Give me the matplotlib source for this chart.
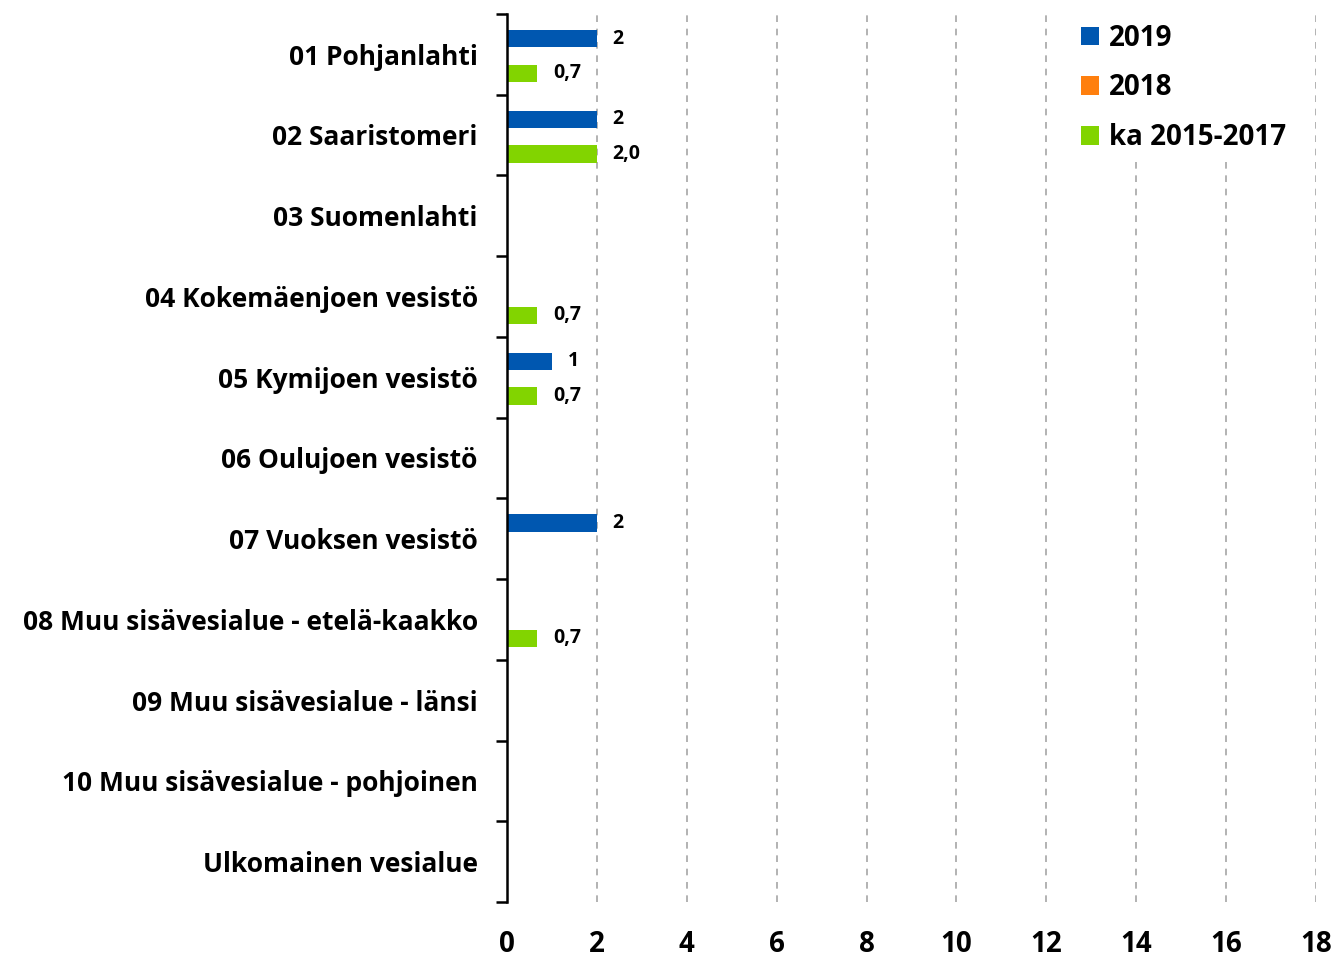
from matplotlib import pyplot as plt
from matplotlib.ticker import FixedLocator
import numpy as np

plt.rcParams['font.family'] = ['Open Sans', 'DejaVu Sans']
plt.rcParams['font.weight'] = 'bold'

alueet = ['01 Pohjanlahti', '02 Saaristomeri', '03 Suomenlahti',
          '04 Kokemäenjoen vesistö', '05 Kymijoen vesistö', '06 Oulujoen vesistö',
          '07 Vuoksen vesistö', '08 Muu sisävesialue - etelä-kaakko',
          '09 Muu sisävesialue - länsi', '10 Muu sisävesialue - pohjoinen',
          'Ulkomainen vesialue']
v2019 = [2, 2, 0, 0, 1, 0, 2, 0, 0, 0, 0]
v2018 = [0, 0, 0, 0, 0, 0, 0, 0, 0, 0, 0]
ka = [0.67, 2.0, 0, 0.67, 0.67, 0, 0, 0.67, 0, 0, 0]

sarjat = [('2019', v2019, '#0057B0', '{:.0f}'),
          ('2018', v2018, '#FF7F0E', '{:.0f}'),
          ('ka 2015-2017', ka, '#82D400', '{:.1f}')]

fig = plt.figure(figsize=(13.37, 9.57), dpi=100)
ax = fig.add_axes([0.3792, 0.0575, 0.6051, 0.928])

y = np.arange(len(alueet))
h = 0.215
for i, (nimi, arvot, vari, fmt) in enumerate(sarjat):
    pos = y + (i - 1) * h + 0.02
    ax.barh(pos, arvot, height=h, color=vari, label=nimi, zorder=3)
    for p, v in zip(pos, arvot):
        if v > 0:
            ax.text(v + 0.35, p, fmt.format(v).replace('.', ','), va='center',
                    ha='left', fontsize=14, fontweight='bold')

ax.set_xlim(0, 18)
ax.set_ylim(len(alueet) - 0.5, -0.5)
ax.set_xticks(np.arange(0, 19, 2))
ax.set_yticks(y)
ax.set_yticklabels(alueet, fontsize=19, fontweight='bold')
ax.yaxis.set_minor_locator(FixedLocator(np.arange(-0.5, len(alueet), 1)))
ax.tick_params(axis='y', which='major', length=0, pad=21)
ax.tick_params(axis='y', which='minor', length=8, width=1.8, direction='out')
ax.tick_params(axis='x', length=0, labelsize=20, pad=20)
for t in ax.get_xticklabels():
    t.set_fontweight('bold')

ax.grid(axis='x', color='#A6A6A6', linestyle=(0, (4, 4)), linewidth=1.2, zorder=0)
for s in ['top', 'right', 'bottom']:
    ax.spines[s].set_visible(False)
ax.spines['left'].set_linewidth(1.8)
ax.spines['left'].set_zorder(4)

leg = ax.legend(loc='upper right', bbox_to_anchor=(0.975, 1.0), frameon=True,
                edgecolor='none', facecolor='white', framealpha=1,
                fontsize=20, handlelength=0.65, handleheight=0.65,
                labelspacing=0.75, handletextpad=0.35, borderaxespad=0,
                borderpad=0.35)
for t in leg.get_texts():
    t.set_fontweight('bold')

plt.savefig('out.png', dpi=100)
